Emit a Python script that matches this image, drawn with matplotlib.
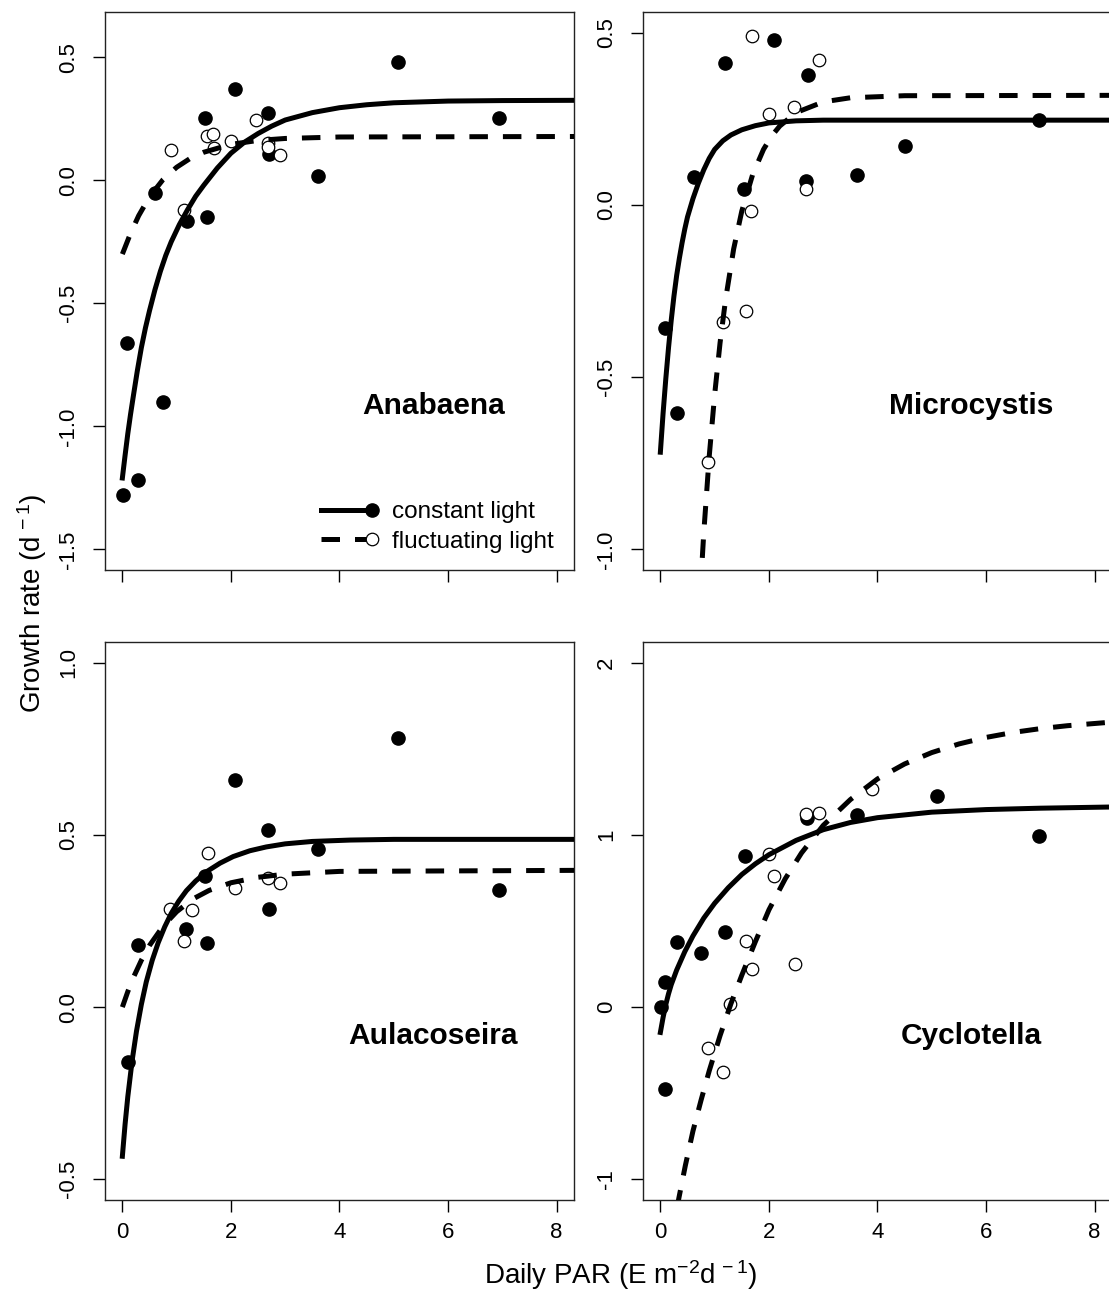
import matplotlib
matplotlib.use("Agg")
import matplotlib.pyplot as plt
from matplotlib.lines import Line2D
from matplotlib.legend_handler import HandlerLine2D
from matplotlib.ticker import FormatStrFormatter

plt.rcParams['font.family'] = ['Liberation Sans', 'DejaVu Sans']
plt.rcParams['mathtext.fontset'] = 'custom'
plt.rcParams['mathtext.rm'] = 'Liberation Sans'
plt.rcParams['mathtext.it'] = 'Liberation Sans:italic'
plt.rcParams['mathtext.bf'] = 'Liberation Sans:bold'
plt.rcParams['axes.unicode_minus'] = False

# ---- data ----
# Anabaena
ana_const_x = [0.01, 0.09, 0.29, 0.61, 0.75, 1.19, 1.52, 1.56, 2.07, 2.68, 2.71, 3.61, 5.07, 6.94]
ana_const_y = [-1.28, -0.66, -1.22, -0.05, -0.90, -0.165, 0.254, -0.15, 0.372, 0.274, 0.107, 0.019, 0.482, 0.254]
ana_fluc_x = [0.89, 1.13, 1.55, 1.67, 1.69, 2.00, 2.47, 2.68, 2.68, 2.91]
ana_fluc_y = [0.125, -0.12, 0.18, 0.19, 0.13, 0.16, 0.247, 0.15, 0.135, 0.103]
ana_fit_const_x = [0, 0.05, 0.1, 0.15, 0.2, 0.275, 0.35, 0.425, 0.5, 0.6, 0.7, 0.8, 0.9, 1.05, 1.2, 1.35,
                   1.5, 1.75, 2.0, 2.25, 2.5, 2.75, 3.0, 3.5, 4.0, 4.5, 5.0, 6.0, 7.0, 8.32]
ana_fit_const_y = [-1.21, -1.118, -1.03, -0.952, -0.88, -0.775, -0.68, -0.60, -0.53, -0.445, -0.37, -0.305,
                   -0.25, -0.18, -0.12, -0.065, -0.02, 0.05, 0.11, 0.155, 0.19, 0.22, 0.245, 0.275, 0.295,
                   0.307, 0.315, 0.322, 0.324, 0.325]
ana_fit_fluc_x = [0, 0.15, 0.3, 0.5, 0.75, 1.0, 1.25, 1.5, 2.0, 2.5, 3.0, 4.0, 8.32]
ana_fit_fluc_y = [-0.30, -0.216, -0.144, -0.067, 0.003, 0.053, 0.089, 0.114, 0.146, 0.162, 0.170, 0.176, 0.178]

# Microcystis
mic_const_x = [0.09, 0.30, 0.62, 1.19, 1.54, 2.09, 2.68, 2.72, 3.63, 4.50, 6.98]
mic_const_y = [-0.356, -0.605, 0.082, 0.411, 0.047, 0.479, 0.068, 0.377, 0.087, 0.171, 0.246]
mic_fluc_x = [0.88, 1.15, 1.58, 1.67, 1.69, 2.01, 2.46, 2.68, 2.92]
mic_fluc_y = [-0.747, -0.339, -0.307, -0.019, 0.491, 0.265, 0.283, 0.047, 0.422]
mic_fit_const_x = [0, 0.05, 0.1, 0.15, 0.2, 0.25, 0.3, 0.35, 0.4, 0.45, 0.5, 0.6, 0.7, 0.8, 0.9, 1.0,
                   1.15, 1.3, 1.5, 1.75, 2.0, 2.5, 3.0, 8.32]
mic_fit_const_y = [-0.718, -0.605, -0.505, -0.415, -0.335, -0.265, -0.205, -0.155, -0.11, -0.07, -0.035,
                   0.018, 0.063, 0.102, 0.135, 0.161, 0.186, 0.203, 0.218, 0.23, 0.238, 0.244, 0.246, 0.246]
mic_fit_fluc_x = [0.7, 0.8, 0.9, 1.0, 1.1, 1.2, 1.35, 1.5, 1.7, 1.9, 2.05, 2.2, 2.5, 3.0, 3.5, 4.5, 8.32]
mic_fit_fluc_y = [-1.219, -0.951, -0.730, -0.551, -0.400, -0.276, -0.128, -0.018, 0.088, 0.161, 0.200,
                  0.229, 0.268, 0.299, 0.311, 0.317, 0.318]

# Aulacoseira
aul_const_x = [0.10, 0.29, 1.18, 1.52, 1.56, 2.08, 2.68, 2.71, 3.61, 5.07, 6.94]
aul_const_y = [-0.160, 0.179, 0.227, 0.382, 0.187, 0.660, 0.513, 0.285, 0.458, 0.781, 0.340]
aul_fluc_x = [0.87, 1.13, 1.29, 1.58, 2.08, 2.68, 2.91]
aul_fluc_y = [0.285, 0.192, 0.282, 0.448, 0.347, 0.374, 0.360]
aul_fit_const_x = [0, 0.05, 0.1, 0.18, 0.26, 0.35, 0.44, 0.55, 0.66, 0.78, 0.9, 1.04, 1.18, 1.35, 1.55,
                   1.8, 2.04, 2.35, 2.65, 3.0, 3.5, 4.2, 5.0, 8.32]
aul_fit_const_y = [-0.433, -0.34, -0.26, -0.155, -0.07, 0.008, 0.073, 0.136, 0.187, 0.233, 0.272, 0.308,
                   0.338, 0.366, 0.393, 0.418, 0.437, 0.454, 0.465, 0.474, 0.481, 0.485, 0.487, 0.487]
aul_fit_fluc_x = [0, 0.1, 0.2, 0.35, 0.5, 0.75, 1.0, 1.3, 1.6, 2.0, 2.5, 3.0, 4.0, 8.32]
aul_fit_fluc_y = [0.0, 0.045, 0.085, 0.136, 0.179, 0.235, 0.277, 0.314, 0.339, 0.361, 0.377, 0.386, 0.394, 0.397]

# Cyclotella
cyc_const_x = [0.02, 0.09, 0.09, 0.30, 0.74, 1.19, 1.56, 2.71, 3.62, 5.09, 6.98]
cyc_const_y = [0.0, 0.147, -0.473, 0.376, 0.315, 0.439, 0.88, 1.097, 1.118, 1.227, 0.996]
cyc_fluc_x = [0.88, 1.16, 1.29, 1.57, 1.69, 2.00, 2.09, 2.48, 2.68, 2.92, 3.90]
cyc_fluc_y = [-0.237, -0.374, 0.019, 0.382, 0.22, 0.887, 0.76, 0.252, 1.122, 1.128, 1.269]
cyc_fit_const_x = [0, 0.05, 0.1, 0.15, 0.2, 0.3, 0.45, 0.6, 0.8, 1.0, 1.25, 1.5, 1.75, 2.0, 2.5, 3.0, 3.5,
                   4.0, 5.0, 6.0, 7.0, 8.32]
cyc_fit_const_y = [-0.147, -0.06, 0.015, 0.077, 0.13, 0.215, 0.322, 0.413, 0.517, 0.603, 0.693, 0.77,
                   0.832, 0.885, 0.968, 1.03, 1.072, 1.10, 1.132, 1.147, 1.155, 1.162]
cyc_fit_fluc_x = [0.2, 0.34, 0.46, 0.6, 0.75, 0.9, 1.1, 1.3, 1.5, 1.75, 2.0, 2.3, 2.6, 3.0, 3.5, 4.0, 4.5,
                  5.0, 5.5, 6.0, 6.5, 7.0, 7.5, 8.32]
cyc_fit_fluc_y = [-1.36, -1.11, -0.92, -0.72, -0.54, -0.37, -0.165, 0.02, 0.185, 0.38, 0.565, 0.745, 0.895,
                  1.055, 1.205, 1.325, 1.412, 1.478, 1.528, 1.566, 1.595, 1.617, 1.634, 1.655]


class EndMarker(HandlerLine2D):
    # marker at the right end of the legend line, as in the original
    def create_artists(self, *args, **kwargs):
        arts = super().create_artists(*args, **kwargs)
        arts[0].set_markevery([2])
        return arts


W, H = 1109, 1293
fig = plt.figure(figsize=(W / 100, H / 100), dpi=100)

def box(x0, y0, x1, y1):
    return [x0 / W, 1 - y1 / H, (x1 - x0) / W, (y1 - y0) / H]

LW = 3.6
DASH = (3.7, 3.0)
MS_FILL = 9.5
MS_OPEN = 9.0

def panel(pos, cx, cy, fx, fy, fcx, fcy, ffx, ffy, name, ylim, yticks, fmt, xlabels):
    ax = fig.add_axes(pos)
    ax.plot(cx, cy, 'o', color='black', ms=MS_FILL, zorder=2)
    ax.plot(fx, fy, 'o', mfc='white', mec='black', mew=0.9, ms=MS_OPEN, zorder=2)
    ax.plot(fcx, fcy, '-', color='black', lw=LW, zorder=3)
    ax.plot(ffx, ffy, '--', color='black', lw=LW, dashes=DASH, zorder=3)
    ax.set_xlim(-0.32, 8.32)
    span = ylim[1] - ylim[0]
    ax.set_ylim(ylim[0] - 0.04 * span, ylim[1] + 0.04 * span)
    ax.set_xticks([0, 2, 4, 6, 8])
    ax.set_yticks(yticks)
    ax.yaxis.set_major_formatter(FormatStrFormatter(fmt))
    ax.tick_params(direction='out', length=8.5, width=1.0, labelsize=16, color='black')
    ax.tick_params(axis='x', pad=7, labelbottom=xlabels)
    ax.tick_params(axis='y', pad=10, labelrotation=90)
    for lab in ax.get_yticklabels():
        lab.set_va('center')
    for s in ax.spines.values():
        s.set_linewidth(1.0)
        s.set_color('#222222')
    ax.text(0.70, 0.294, name, transform=ax.transAxes, ha='center', va='center',
            fontsize=21.5, fontweight='bold')
    return ax

ax1 = panel(box(105, 12, 574, 570), ana_const_x, ana_const_y, ana_fluc_x, ana_fluc_y,
            ana_fit_const_x, ana_fit_const_y, ana_fit_fluc_x, ana_fit_fluc_y,
            'Anabaena', (-1.5, 0.6), [-1.5, -1.0, -0.5, 0.0, 0.5], '%.1f', False)
ax2 = panel(box(643, 12, 1112, 570), mic_const_x, mic_const_y, mic_fluc_x, mic_fluc_y,
            mic_fit_const_x, mic_fit_const_y, mic_fit_fluc_x, mic_fit_fluc_y,
            'Microcystis', (-1.0, 0.5), [-1.0, -0.5, 0.0, 0.5], '%.1f', False)
ax3 = panel(box(105, 642, 574, 1200), aul_const_x, aul_const_y, aul_fluc_x, aul_fluc_y,
            aul_fit_const_x, aul_fit_const_y, aul_fit_fluc_x, aul_fit_fluc_y,
            'Aulacoseira', (-0.5, 1.0), [-0.5, 0.0, 0.5, 1.0], '%.1f', True)
ax4 = panel(box(643, 642, 1112, 1200), cyc_const_x, cyc_const_y, cyc_fluc_x, cyc_fluc_y,
            cyc_fit_const_x, cyc_fit_const_y, cyc_fit_fluc_x, cyc_fit_fluc_y,
            'Cyclotella', (-1.0, 2.0), [-1, 0, 1, 2], '%d', True)

# legend in the first panel
h_const = Line2D([], [], color='black', lw=LW, marker='o', ms=MS_FILL)
h_fluc = Line2D([], [], color='black', lw=LW, ls='--', dashes=DASH, marker='o',
                mfc='white', mec='black', mew=0.9, ms=MS_OPEN)
ax1.legend([h_const, h_fluc], ['constant light', 'fluctuating light'],
           loc='lower left', bbox_to_anchor=(0.461, 0.031), frameon=False, fontsize=17.5,
           numpoints=1, handlelength=2.1, handletextpad=0.8, labelspacing=0.3,
           borderpad=0, borderaxespad=0,
           handler_map={Line2D: EndMarker()})

fig.text(32 / W, 1 - 603 / H, r'Growth rate (d$^{\,-1}$)', rotation=90, ha='center', va='center',
         fontsize=20)
fig.text(621 / W, 1 - 1275 / H, r'Daily PAR (E m$^{-2}$d$^{\,-1}$)', ha='center', va='center',
         fontsize=20)

fig.savefig('out.png', dpi=100)
